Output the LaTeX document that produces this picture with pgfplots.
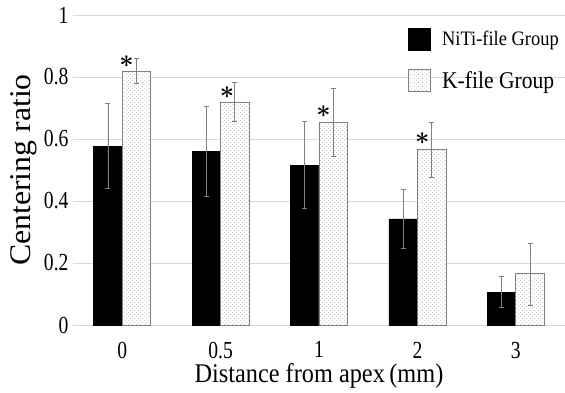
\documentclass[border=0pt]{standalone}
\usepackage{pgfplots}
\pgfplotsset{compat=1.18}
\usepackage{fontspec}
\setmainfont{Liberation Serif}[FakeStretch=0.9]
\newfontfamily\widefont{Liberation Serif}[FakeStretch=1.06]
\newfontfamily\tickfont{Liberation Serif}[FakeStretch=0.8]
\DeclareRobustCommand\bast{\mbox{\boldmath$\ast$}}
\usetikzlibrary{patterns}
\pgfdeclarepatternformonly{sparsedots}{\pgfpointorigin}{\pgfpoint{4pt}{4pt}}{\pgfpoint{4pt}{4pt}}{%
  \pgfpathcircle{\pgfpoint{1pt}{1pt}}{0.45pt}%
  \pgfpathcircle{\pgfpoint{3pt}{3pt}}{0.45pt}%
  \pgfusepath{fill}}
\begin{document}
\begin{tikzpicture}
\begin{axis}[
  at={(0,0)}, anchor=south west,
  scale only axis, width=492pt, height=310pt,
  xmin=-0.5, xmax=4.5, ymin=0, ymax=1,
  ybar=0pt, bar width=28.5pt,
  xtick={0,1,2,3,4}, xticklabels={0,0.5,1,2,3},
  ytick={0,0.2,0.4,0.6,0.8,1},
  yticklabels={0,0.2,0.4,0.6,0.8,1},
  axis line style={draw=none},
  tick style={draw=none},
  ymajorgrids, grid style={gray!30, line width=0.8pt},
  /pgf/number format/assume math mode=true,
  ticklabel style={font=\tickfont\fontsize{24.5}{26}\selectfont},
  yticklabel style={xshift=-1pt},
  xticklabel style={yshift=-9pt},
  xlabel={Distance from apex\,(mm)},
  ylabel={Centering ratio},
  xlabel style={font=\fontsize{27}{30}\selectfont, yshift=2pt},
  ylabel style={font=\widefont\fontsize{30}{32}\selectfont, yshift=0pt},
  legend style={draw=none, fill=none, at={(rel axis cs:0.681,0.96)}, anchor=north west,
    font=\fontsize{20.5}{24}\selectfont, row sep=19pt, inner sep=0pt, cells={anchor=west}},
  legend image code/.code={\draw[#1] (0pt,-11pt) rectangle (22pt,11pt); \path (31pt,0pt);},
  error bars/error bar style={gray, line width=0.7pt},
  error bars/error mark options={rotate=90, gray, mark size=2.5pt, line width=0.7pt},
]
\addplot[fill=black, draw=black,
  error bars/.cd, y dir=both, y explicit]
  coordinates {(0,0.577) +- (0,0.137) (1,0.561) +- (0,0.145) (2,0.516) +- (0,0.14) (3,0.342) +- (0,0.095) (4,0.106) +- (0,0.05)};
\addlegendentry{NiTi-file Group}
\addplot[fill=white, draw=gray, line width=0.8pt, postaction={pattern=sparsedots, pattern color=gray!90},
  error bars/.cd, y dir=both, y explicit]
  coordinates {(0,0.819) +- (0,0.04) (1,0.719) +- (0,0.063) (2,0.655) +- (0,0.11) (3,0.565) +- (0,0.09) (4,0.165) +- (0,0.1)};
\addlegendentry{\fontsize{24}{28}\selectfont K-file Group}
\node[font=\fontsize{28}{30}\selectfont] at (axis cs:0.045,0.85) {\bast};
\node[font=\fontsize{28}{30}\selectfont] at (axis cs:1.065,0.75) {\bast};
\node[font=\fontsize{28}{30}\selectfont] at (axis cs:2.045,0.687) {\bast};
\node[font=\fontsize{28}{30}\selectfont] at (axis cs:3.05,0.602) {\bast};
\end{axis}
\pgfresetboundingbox
\path[use as bounding box] (-73pt,-67pt) rectangle (492pt,325pt);
\end{tikzpicture}
\end{document}
